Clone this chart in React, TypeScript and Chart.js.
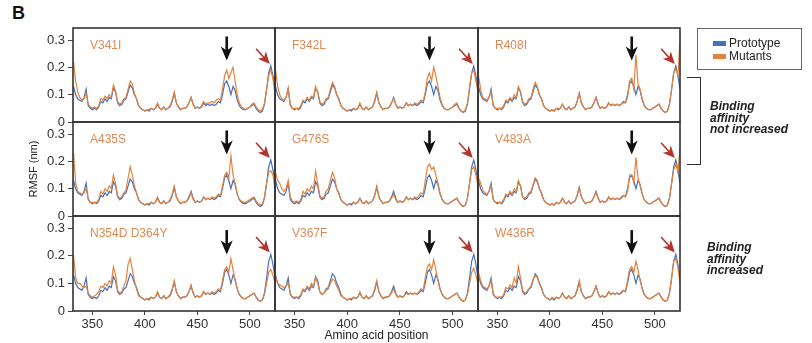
import React, { useEffect, useRef } from "react";
import { Chart, registerables } from "chart.js";

Chart.register(...registerables);

const FONT = '"Liberation Sans", Arial, Helvetica, sans-serif';

// Amino acid positions (x values)
const RESIDUES = [
  332, 334, 336, 338, 340, 342, 344, 346, 348, 350,
  352, 354, 356, 358, 360, 362, 364, 366, 368, 370,
  372, 374, 376, 378, 380, 382, 384, 386, 388, 390,
  392, 394, 396, 398, 400, 402, 404, 406, 408, 410,
  412, 414, 416, 418, 420, 422, 424, 426, 428, 430,
  432, 434, 436, 438, 440, 442, 444, 446, 448, 450,
  452, 454, 456, 458, 460, 462, 464, 466, 468, 470,
  472, 474, 476, 478, 480, 482, 484, 486, 488, 490,
  492, 494, 496, 498, 500, 502, 504, 506, 508, 510,
  512, 514, 516, 518, 520, 522, 524,
];

const X_TICKS = [350, 400, 450, 500];
const Y_TICKS = [0, 0.1, 0.2, 0.3];
const Y_TICK_LABELS = ["0", "0.1", "0.2", "0.3"];

// RMSF (nm), prototype
const PROTOTYPE = [
  0.13, 0.10, 0.085, 0.08, 0.075, 0.09, 0.12, 0.06, 0.05, 0.045,
  0.05, 0.045, 0.055, 0.075, 0.07, 0.085, 0.075, 0.09, 0.085, 0.125,
  0.11, 0.07, 0.06, 0.065, 0.08, 0.085, 0.11, 0.135, 0.125, 0.10,
  0.085, 0.06, 0.05, 0.045, 0.04, 0.045, 0.04, 0.05, 0.045, 0.05,
  0.065, 0.05, 0.045, 0.055, 0.045, 0.05, 0.055, 0.075, 0.105, 0.07,
  0.055, 0.045, 0.05, 0.05, 0.055, 0.07, 0.09, 0.065, 0.05, 0.055,
  0.05, 0.055, 0.07, 0.06, 0.065, 0.06, 0.065, 0.06, 0.065, 0.075,
  0.07, 0.10, 0.14, 0.15, 0.13, 0.10, 0.13, 0.115, 0.08, 0.06,
  0.05, 0.045, 0.045, 0.05, 0.055, 0.06, 0.065, 0.05, 0.04, 0.035,
  0.04, 0.065, 0.12, 0.18, 0.205, 0.17, 0.12,
];

const V341I = [
  0.22, 0.15, 0.11, 0.09, 0.08, 0.085, 0.105, 0.065, 0.055, 0.05,
  0.055, 0.05, 0.06, 0.085, 0.08, 0.095, 0.085, 0.10, 0.09, 0.135,
  0.115, 0.075, 0.065, 0.07, 0.085, 0.09, 0.12, 0.15, 0.14, 0.105,
  0.085, 0.06, 0.05, 0.045, 0.04, 0.045, 0.045, 0.05, 0.045, 0.05,
  0.07, 0.05, 0.045, 0.055, 0.045, 0.05, 0.06, 0.08, 0.11, 0.07,
  0.055, 0.045, 0.05, 0.05, 0.055, 0.07, 0.09, 0.065, 0.05, 0.055,
  0.05, 0.06, 0.075, 0.065, 0.07, 0.07, 0.075, 0.07, 0.08, 0.085,
  0.08, 0.12, 0.17, 0.19, 0.16, 0.18, 0.20, 0.15, 0.10, 0.07,
  0.055, 0.05, 0.045, 0.05, 0.055, 0.065, 0.07, 0.055, 0.045, 0.04,
  0.045, 0.07, 0.12, 0.17, 0.19, 0.16, 0.10,
];

const F342L = [
  0.19, 0.13, 0.10, 0.085, 0.08, 0.09, 0.125, 0.065, 0.05, 0.05,
  0.05, 0.05, 0.06, 0.08, 0.075, 0.09, 0.08, 0.095, 0.09, 0.13,
  0.11, 0.075, 0.065, 0.07, 0.085, 0.09, 0.12, 0.145, 0.13, 0.10,
  0.08, 0.06, 0.05, 0.045, 0.04, 0.045, 0.045, 0.05, 0.045, 0.05,
  0.07, 0.05, 0.045, 0.055, 0.045, 0.05, 0.055, 0.08, 0.11, 0.07,
  0.055, 0.045, 0.05, 0.05, 0.055, 0.07, 0.085, 0.065, 0.05, 0.055,
  0.05, 0.055, 0.07, 0.06, 0.065, 0.06, 0.07, 0.065, 0.07, 0.08,
  0.075, 0.11, 0.16, 0.18, 0.15, 0.20, 0.17, 0.13, 0.09, 0.065,
  0.05, 0.045, 0.045, 0.05, 0.055, 0.065, 0.07, 0.05, 0.04, 0.035,
  0.045, 0.07, 0.13, 0.18, 0.19, 0.15, 0.11,
];

const R408I = [
  0.17, 0.12, 0.09, 0.085, 0.08, 0.09, 0.11, 0.06, 0.05, 0.05,
  0.05, 0.05, 0.06, 0.08, 0.075, 0.09, 0.08, 0.10, 0.09, 0.13,
  0.11, 0.075, 0.065, 0.07, 0.085, 0.09, 0.12, 0.145, 0.13, 0.10,
  0.085, 0.06, 0.05, 0.045, 0.04, 0.045, 0.04, 0.05, 0.05, 0.05,
  0.065, 0.05, 0.045, 0.055, 0.045, 0.05, 0.055, 0.075, 0.105, 0.07,
  0.055, 0.045, 0.05, 0.05, 0.055, 0.07, 0.09, 0.065, 0.05, 0.055,
  0.05, 0.055, 0.07, 0.06, 0.065, 0.06, 0.065, 0.06, 0.065, 0.07,
  0.07, 0.09, 0.15, 0.16, 0.12, 0.245, 0.14, 0.12, 0.085, 0.06,
  0.05, 0.045, 0.045, 0.05, 0.055, 0.06, 0.065, 0.05, 0.04, 0.035,
  0.04, 0.065, 0.12, 0.18, 0.195, 0.17, 0.30,
];

const A435S = [
  0.23, 0.12, 0.09, 0.085, 0.08, 0.085, 0.10, 0.065, 0.05, 0.05,
  0.05, 0.05, 0.06, 0.09, 0.08, 0.10, 0.09, 0.11, 0.10, 0.15,
  0.12, 0.075, 0.065, 0.07, 0.085, 0.095, 0.14, 0.18, 0.15, 0.11,
  0.085, 0.06, 0.05, 0.045, 0.04, 0.045, 0.045, 0.05, 0.045, 0.05,
  0.07, 0.05, 0.045, 0.055, 0.045, 0.05, 0.06, 0.08, 0.11, 0.07,
  0.055, 0.045, 0.05, 0.05, 0.055, 0.065, 0.085, 0.06, 0.05, 0.055,
  0.05, 0.055, 0.07, 0.06, 0.065, 0.06, 0.07, 0.065, 0.07, 0.08,
  0.075, 0.11, 0.15, 0.16, 0.14, 0.22, 0.15, 0.12, 0.08, 0.06,
  0.055, 0.05, 0.05, 0.055, 0.06, 0.065, 0.07, 0.055, 0.045, 0.04,
  0.045, 0.07, 0.12, 0.16, 0.165, 0.15, 0.10,
];

const G476S = [
  0.16, 0.13, 0.12, 0.10, 0.09, 0.10, 0.13, 0.07, 0.055, 0.05,
  0.055, 0.05, 0.06, 0.09, 0.08, 0.10, 0.09, 0.11, 0.10, 0.165,
  0.12, 0.075, 0.065, 0.07, 0.09, 0.10, 0.13, 0.16, 0.14, 0.10,
  0.08, 0.06, 0.05, 0.045, 0.04, 0.045, 0.045, 0.05, 0.045, 0.05,
  0.065, 0.05, 0.045, 0.055, 0.045, 0.05, 0.055, 0.075, 0.11, 0.07,
  0.055, 0.045, 0.05, 0.05, 0.055, 0.065, 0.08, 0.06, 0.05, 0.055,
  0.05, 0.055, 0.07, 0.06, 0.065, 0.06, 0.07, 0.065, 0.075, 0.085,
  0.08, 0.13, 0.18, 0.19, 0.17, 0.18, 0.15, 0.12, 0.085, 0.06,
  0.05, 0.045, 0.045, 0.05, 0.055, 0.06, 0.065, 0.05, 0.04, 0.035,
  0.04, 0.065, 0.12, 0.17, 0.18, 0.15, 0.11,
];

const V483A = [
  0.14, 0.12, 0.095, 0.085, 0.08, 0.09, 0.11, 0.06, 0.05, 0.05,
  0.05, 0.05, 0.06, 0.08, 0.075, 0.09, 0.08, 0.10, 0.09, 0.13,
  0.11, 0.07, 0.065, 0.07, 0.085, 0.09, 0.115, 0.14, 0.13, 0.10,
  0.08, 0.06, 0.05, 0.045, 0.04, 0.045, 0.04, 0.05, 0.045, 0.05,
  0.065, 0.05, 0.045, 0.055, 0.045, 0.05, 0.055, 0.075, 0.105, 0.07,
  0.055, 0.045, 0.05, 0.05, 0.055, 0.07, 0.085, 0.065, 0.05, 0.055,
  0.05, 0.055, 0.07, 0.06, 0.065, 0.06, 0.065, 0.06, 0.07, 0.075,
  0.07, 0.09, 0.15, 0.15, 0.12, 0.215, 0.14, 0.11, 0.08, 0.06,
  0.05, 0.045, 0.045, 0.05, 0.055, 0.06, 0.065, 0.05, 0.04, 0.035,
  0.04, 0.065, 0.12, 0.17, 0.19, 0.16, 0.25,
];

const N354D_D364Y = [
  0.20, 0.12, 0.10, 0.10, 0.09, 0.085, 0.09, 0.065, 0.055, 0.05,
  0.055, 0.06, 0.07, 0.09, 0.085, 0.10, 0.09, 0.11, 0.10, 0.16,
  0.13, 0.075, 0.065, 0.07, 0.09, 0.11, 0.17, 0.19, 0.15, 0.11,
  0.08, 0.055, 0.05, 0.045, 0.04, 0.045, 0.045, 0.05, 0.045, 0.05,
  0.07, 0.05, 0.045, 0.055, 0.045, 0.05, 0.06, 0.08, 0.11, 0.07,
  0.055, 0.045, 0.05, 0.05, 0.055, 0.07, 0.095, 0.065, 0.05, 0.055,
  0.05, 0.055, 0.07, 0.06, 0.065, 0.06, 0.07, 0.065, 0.07, 0.08,
  0.075, 0.11, 0.15, 0.16, 0.14, 0.19, 0.15, 0.11, 0.08, 0.06,
  0.05, 0.045, 0.045, 0.05, 0.055, 0.06, 0.065, 0.05, 0.04, 0.035,
  0.04, 0.06, 0.10, 0.14, 0.15, 0.13, 0.10,
];

const V367F = [
  0.12, 0.10, 0.095, 0.09, 0.085, 0.09, 0.10, 0.065, 0.05, 0.05,
  0.05, 0.05, 0.06, 0.08, 0.075, 0.09, 0.08, 0.10, 0.09, 0.12,
  0.10, 0.07, 0.06, 0.065, 0.075, 0.08, 0.10, 0.115, 0.11, 0.09,
  0.075, 0.055, 0.05, 0.045, 0.04, 0.045, 0.045, 0.05, 0.045, 0.05,
  0.07, 0.05, 0.045, 0.055, 0.045, 0.05, 0.055, 0.08, 0.11, 0.07,
  0.055, 0.045, 0.05, 0.05, 0.055, 0.065, 0.08, 0.06, 0.05, 0.055,
  0.05, 0.055, 0.065, 0.06, 0.065, 0.06, 0.065, 0.06, 0.07, 0.08,
  0.075, 0.12, 0.16, 0.17, 0.15, 0.185, 0.15, 0.11, 0.08, 0.06,
  0.05, 0.045, 0.045, 0.05, 0.055, 0.06, 0.065, 0.05, 0.04, 0.035,
  0.04, 0.06, 0.10, 0.14, 0.155, 0.13, 0.10,
];

const W436R = [
  0.14, 0.11, 0.09, 0.085, 0.08, 0.09, 0.11, 0.065, 0.05, 0.05,
  0.05, 0.05, 0.06, 0.085, 0.08, 0.095, 0.085, 0.12, 0.10, 0.16,
  0.12, 0.075, 0.065, 0.07, 0.08, 0.09, 0.115, 0.13, 0.12, 0.10,
  0.08, 0.06, 0.05, 0.045, 0.04, 0.05, 0.045, 0.05, 0.045, 0.05,
  0.065, 0.05, 0.045, 0.055, 0.045, 0.05, 0.055, 0.08, 0.11, 0.07,
  0.055, 0.045, 0.05, 0.05, 0.055, 0.07, 0.09, 0.065, 0.05, 0.055,
  0.05, 0.055, 0.07, 0.06, 0.065, 0.06, 0.065, 0.06, 0.07, 0.075,
  0.07, 0.11, 0.15, 0.16, 0.14, 0.18, 0.15, 0.11, 0.08, 0.06,
  0.05, 0.045, 0.045, 0.05, 0.055, 0.06, 0.065, 0.05, 0.04, 0.035,
  0.04, 0.065, 0.12, 0.18, 0.19, 0.16, 0.10,
];

const PANEL_LABELS = ["V341I", "F342L", "R408I", "A435S", "G476S", "V483A", "N354D D364Y", "V367F", "W436R"];
const MUTANT_SERIES = [V341I, F342L, R408I, A435S, G476S, V483A, N354D_D364Y, V367F, W436R];

// arrow annotations (data coordinates)
const BLACK_ARROW_X = 478;
const BLACK_ARROW_TIP = [0.225, 0.225, 0.225, 0.225, 0.225, 0.225, 0.205, 0.205, 0.205];
const BLACK_ARROW_LEN = 0.088;
const RED_ARROW_FROM = [506, 0.268];
const RED_ARROW_TO = [519, 0.212];

const BLUE = "#4a6fb3";
const ORANGE = "#e3833e";
const LABEL_ORANGE = "#dc8a55";
const FRAME = "#333333";
const RED = "#b3342a";

// layout (pixels)
const COL_X = [73, 275, 478];
const COL_W = [202, 203, 202];
const ROW_Y = [28, 122, 216];
const ROW_H = [94, 94, 95];

function drawArrow(ctx: CanvasRenderingContext2D, x0: number, y0: number, x1: number, y1: number, color: string, shaftW: number, headLen: number, headW: number) {
  const ang = Math.atan2(y1 - y0, x1 - x0);
  const len = Math.hypot(x1 - x0, y1 - y0);
  ctx.save();
  ctx.translate(x1, y1);
  ctx.rotate(ang);
  ctx.fillStyle = color;
  ctx.fillRect(-len, -shaftW / 2, len - headLen * 0.6, shaftW);
  ctx.beginPath();
  ctx.moveTo(0, 0);
  ctx.lineTo(-headLen, -headW / 2);
  ctx.lineTo(-headLen * 0.72, 0);
  ctx.lineTo(-headLen, headW / 2);
  ctx.closePath();
  ctx.fill();
  ctx.restore();
}

const panelDecor = {
  id: "panelDecor",
  afterDatasetsDraw(chart: any, _args: any, opts: any) {
    const { ctx, chartArea: a, scales } = chart;
    const xs = scales.x;
    const ys = scales.y;
    ctx.save();
    ctx.font = `12px ${FONT}`;
    ctx.fillStyle = LABEL_ORANGE;
    ctx.textBaseline = "middle";
    ctx.textAlign = "left";
    ctx.fillText(opts.label, a.left + 17, a.top + 18);

    const bx = xs.getPixelForValue(BLACK_ARROW_X);
    drawArrow(ctx, bx, ys.getPixelForValue(opts.blackTip + BLACK_ARROW_LEN), bx, ys.getPixelForValue(opts.blackTip), "#111", 2.6, 14, 12);
    drawArrow(
      ctx,
      xs.getPixelForValue(RED_ARROW_FROM[0]), ys.getPixelForValue(RED_ARROW_FROM[1]),
      xs.getPixelForValue(RED_ARROW_TO[0]), ys.getPixelForValue(RED_ARROW_TO[1]),
      RED, 1.6, 12, 11
    );

    ctx.strokeStyle = FRAME;
    ctx.lineWidth = 1.6;
    ctx.strokeRect(a.left, a.top, a.right - a.left, a.bottom - a.top);
    ctx.restore();
  },
};

function Panel({ idx }: { idx: number }) {
  const ref = useRef<HTMLCanvasElement>(null);
  const col = idx % 3;
  const row = Math.floor(idx / 3);
  const isLeft = col === 0;
  const isBottom = row === 2;
  const padL = isLeft ? 60 : 10;
  const padR = 10;
  const padT = 10;
  const padB = isBottom ? 32 : 10;
  const w = COL_W[col] + padL + padR;
  const h = ROW_H[row] + padT + padB;

  useEffect(() => {
    if (!ref.current) return;
    const chart = new Chart(ref.current, {
      type: "line",
      data: {
        datasets: [
          {
            label: "Mutants",
            data: RESIDUES.map((r, i) => ({ x: r, y: MUTANT_SERIES[idx][i] })),
            borderColor: ORANGE,
            borderWidth: 1.2,
            pointRadius: 0,
            tension: 0,
            fill: false,
          },
          {
            label: "Prototype",
            data: RESIDUES.map((r, i) => ({ x: r, y: PROTOTYPE[i] })),
            borderColor: BLUE,
            borderWidth: 1.2,
            pointRadius: 0,
            tension: 0,
            fill: false,
          },
        ],
      },
      options: {
        responsive: false,
        maintainAspectRatio: false,
        animation: false,
        events: [],
        layout: { padding: { left: isLeft ? 12 : 10, right: 10, top: 10, bottom: isBottom ? 0 : 10 } },
        plugins: {
          legend: { display: false },
          tooltip: { enabled: false },
          panelDecor: { label: PANEL_LABELS[idx], blackTip: BLACK_ARROW_TIP[idx] },
        } as any,
        scales: {
          x: {
            type: "linear",
            min: 331.5,
            max: 524,
            display: isBottom,
            afterBuildTicks: (s: any) => {
              s.ticks = X_TICKS.map((v) => ({ value: v }));
            },
            afterFit: (s: any) => {
              if (!isBottom) return;
              s.height = 32;
              s.paddingLeft = 0;
              s.paddingRight = 0;
            },
            grid: { drawOnChartArea: false, drawTicks: true, tickLength: 4, color: "#444", lineWidth: 1 },
            border: { display: false },
            ticks: {
              font: { family: FONT, size: 13 },
              color: "#333",
              padding: 2,
              maxRotation: 0,
              autoSkip: false,
              callback: (v: any) => String(v),
            },
            title: {
              display: isBottom && col === 1,
              text: "Amino acid position",
              font: { family: FONT, size: 12 },
              color: "#222",
              padding: { top: 0, bottom: 0 },
            },
          },
          y: {
            type: "linear",
            min: 0,
            max: 0.344,
            display: isLeft,
            afterBuildTicks: (s: any) => {
              s.ticks = Y_TICKS.map((v) => ({ value: v }));
            },
            afterFit: (s: any) => {
              if (!isLeft) return;
              s.width = 48;
              s.paddingTop = 0;
              s.paddingBottom = 0;
            },
            grid: { drawOnChartArea: false, drawTicks: true, tickLength: 5, color: "#444", lineWidth: 1 },
            border: { display: false },
            ticks: {
              font: { family: FONT, size: 13 },
              color: "#333",
              padding: 3,
              callback: (v: any) => Y_TICK_LABELS[Y_TICKS.indexOf(Number(v))] ?? "",
            },
            title: {
              display: isLeft && row === 1,
              text: "RMSF (nm)",
              font: { family: FONT, size: 11 },
              color: "#222",
              padding: { top: 2, bottom: 0 },
            },
          },
        },
      },
      plugins: [panelDecor],
    } as any);
    return () => chart.destroy();
  }, [idx]);

  return (
    <canvas
      ref={ref}
      width={w}
      height={h}
      style={{ position: "absolute", left: COL_X[col] - padL, top: ROW_Y[row] - padT, width: w, height: h }}
    />
  );
}

export default function App() {
  const textStyle: React.CSSProperties = {
    position: "absolute",
    fontFamily: FONT,
    fontWeight: "bold",
    fontStyle: "italic",
    fontSize: 12,
    lineHeight: "11.5px",
    color: "#222",
    whiteSpace: "nowrap",
  };
  return (
    <div style={{ position: "absolute", left: 0, top: 0, width: 812, height: 343, background: "#fff", overflow: "hidden", fontFamily: FONT }}>
      <div style={{ position: "absolute", left: 12, top: 4, fontSize: 18, fontWeight: "bold", lineHeight: "18px", color: "#111" }}>B</div>
      {PANEL_LABELS.map((_, i) => (
        <Panel key={i} idx={i} />
      ))}
      <div style={{ position: "absolute", left: 697, top: 28, width: 105, height: 42, border: "1px solid #666", boxSizing: "border-box" }}>
        <div style={{ position: "absolute", left: 15, top: 12, width: 13, height: 5, background: BLUE }} />
        <div style={{ position: "absolute", left: 31, top: 7, fontSize: 12, lineHeight: "14px", color: "#222" }}>Prototype</div>
        <div style={{ position: "absolute", left: 15, top: 25, width: 13, height: 5, background: ORANGE }} />
        <div style={{ position: "absolute", left: 31, top: 20, fontSize: 12, lineHeight: "14px", color: "#222" }}>Mutants</div>
      </div>
      <div style={{ position: "absolute", left: 687, top: 77, width: 14, height: 88, borderTop: "1.5px solid #333", borderRight: "1.5px solid #333", borderBottom: "1.5px solid #333", boxSizing: "border-box" }} />
      <div style={{ ...textStyle, left: 710, top: 101 }}>
        Binding<br />affinity<br />not increased
      </div>
      <div style={{ ...textStyle, left: 707, top: 242 }}>
        Binding<br />affinity<br />increased
      </div>
    </div>
  );
}
